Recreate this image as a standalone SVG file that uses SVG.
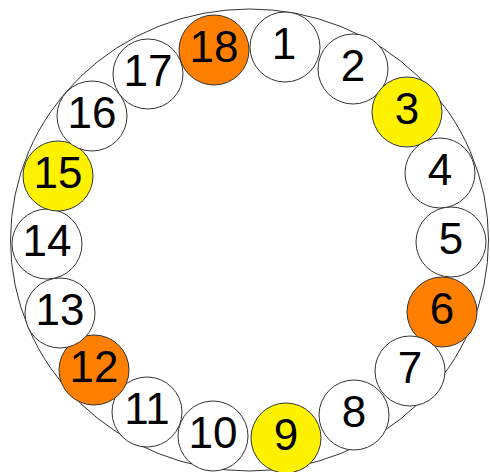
<svg xmlns="http://www.w3.org/2000/svg" width="490" height="472" viewBox="0 0 490 472">
<style>
.n circle{fill:#fff;stroke:#333;stroke-width:1}
.n.o circle{fill:#FF8000}
.n.y circle{fill:#FFF200}
.n text{font-family:"Liberation Sans",Arial,sans-serif;font-size:44px;fill:#000;text-anchor:middle}
</style>
<rect width="490" height="472" fill="#fff"/>
<ellipse id="ring" cx="249.5" cy="240" rx="239" ry="231" fill="none" stroke="#333" stroke-width="1"/>
<g id="connectors"/>
<g id="n1" class="n"><circle cx="285" cy="47" r="35"/><text x="284" y="59">1</text></g>
<g id="n2" class="n"><circle cx="353" cy="69" r="35"/><text x="353" y="81">2</text></g>
<g id="n3" class="n y"><circle cx="407" cy="112" r="35"/><text x="407" y="124">3</text></g>
<g id="n4" class="n"><circle cx="440" cy="173" r="35"/><text x="440" y="185">4</text></g>
<g id="n5" class="n"><circle cx="451" cy="242" r="35"/><text x="451" y="254">5</text></g>
<g id="n6" class="n o"><circle cx="442" cy="312" r="35"/><text x="442" y="324">6</text></g>
<g id="n7" class="n"><circle cx="410" cy="371" r="35"/><text x="410" y="383">7</text></g>
<g id="n8" class="n"><circle cx="354" cy="415" r="35"/><text x="354" y="427">8</text></g>
<g id="n9" class="n y"><circle cx="286" cy="438" r="35"/><text x="286" y="450">9</text></g>
<g id="n10" class="n"><circle cx="213" cy="436" r="35"/><text x="213" y="448">10</text></g>
<g id="n11" class="n"><circle cx="147" cy="412" r="35"/><text x="147" y="424">11</text></g>
<g id="n12" class="n o"><circle cx="94" cy="370" r="35"/><text x="94" y="382">12</text></g>
<g id="n13" class="n"><circle cx="60" cy="313" r="35"/><text x="60" y="325">13</text></g>
<g id="n14" class="n"><circle cx="47" cy="244" r="35"/><text x="47" y="256">14</text></g>
<g id="n15" class="n y"><circle cx="58" cy="176" r="35"/><text x="58" y="188">15</text></g>
<g id="n16" class="n"><circle cx="92" cy="116" r="35"/><text x="92" y="128">16</text></g>
<g id="n17" class="n"><circle cx="148" cy="74" r="35"/><text x="148" y="86">17</text></g>
<g id="n18" class="n o"><circle cx="214" cy="50" r="35"/><text x="214" y="62">18</text></g>
</svg>
